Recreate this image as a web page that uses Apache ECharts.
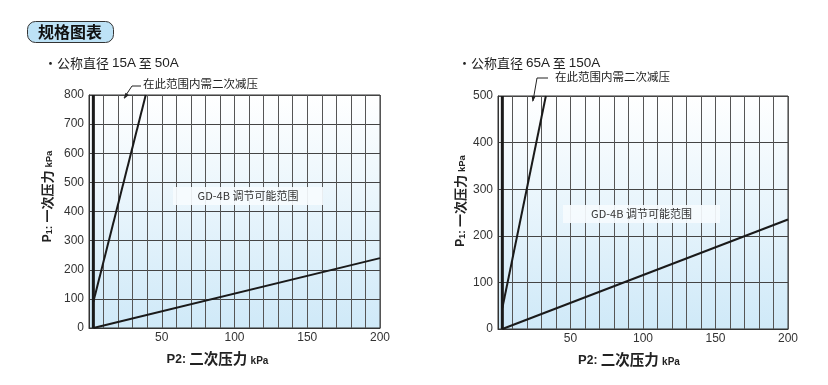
<!DOCTYPE html>
<html>
<head>
<meta charset="utf-8">
<script src="https://cdn.jsdelivr.net/npm/echarts@6/dist/echarts.min.js"></script>
<style>html,body{margin:0;padding:0;background:#fff}#c{width:828px;height:385px}</style>
</head>
<body>
<div id="c"></div>
<script>
// ---- data ----
const xTickLabels = [50, 100, 150, 200];
const leftYMax = 800;
const rightYMax = 500;
const leftBoundary = [[3, 0], [3, 800]];
const leftSteep = [[3, 90], [39, 800]];
const leftLow = [[3, 0], [200, 240]];
const rightBoundary = [[3, 0], [3, 500]];
const rightSteep = [[3, 45], [33, 500]];
const rightLow = [[3, 0], [200, 235]];
const titleText = '规格图表';
const leftSubtitle = ['・公称直径 ', '15A', ' 至 ', '50A'];
const rightSubtitle = ['・公称直径 ', '65A', ' 至 ', '150A'];
const noteText = '在此范围内需二次减压';
const rangeText = 'GD-4B 调节可能范围';

const FONT = "'Liberation Sans','Noto Sans CJK SC',sans-serif";
const CJK = "'Noto Sans CJK SC','Liberation Sans',sans-serif";

const chart = echarts.init(document.getElementById('c'));
const bg = new echarts.graphic.LinearGradient(0, 0, 0, 1, [
  {offset: 0, color: '#ffffff'}, {offset: 1, color: '#cfe9f8'}
]);

function xAxis(gi, shift) {
  return {
    type: 'value', gridIndex: gi, min: 0, max: 200, interval: 10,
    axisLine: {show: true, lineStyle: {color: '#333'}},
    axisTick: {show: false},
    splitLine: {show: true, lineStyle: {color: '#555', width: 1}},
    axisLabel: {
      color: '#333', fontSize: 12, fontFamily: FONT, margin: 4,
      formatter: v => (xTickLabels.indexOf(v) >= 0) ? String(v) : ''
    },
    name: '{p|P}{s|2}{c|: }{n|二次压力 }{k|kPa}',
    nameLocation: 'middle', nameGap: 20,
    nameTextStyle: {
      padding: [0, shift, 0, 0],
      rich: {
        p: {fontSize: 13, fontWeight: 'bold', fontFamily: FONT, color: '#222', lineHeight: 18, verticalAlign: 'bottom'},
        s: {fontSize: 12, fontWeight: 'bold', fontFamily: FONT, color: '#222', lineHeight: 16, verticalAlign: 'bottom'},
        c: {fontSize: 12, fontWeight: 'bold', fontFamily: FONT, color: '#222', lineHeight: 16, verticalAlign: 'bottom'},
        n: {fontSize: 14.5, fontWeight: 'bold', fontFamily: CJK, color: '#222', lineHeight: 18, verticalAlign: 'bottom'},
        k: {fontSize: 10, fontWeight: 'bold', fontFamily: FONT, color: '#222', lineHeight: 14, verticalAlign: 'bottom'}
      }
    }
  };
}
function yAxis(gi, max, gap, shift) {
  return {
    type: 'value', gridIndex: gi, min: 0, max: max, interval: 100,
    axisLine: {show: true, lineStyle: {color: '#333'}},
    axisTick: {show: false},
    splitLine: {show: true, lineStyle: {color: '#444', width: 1}},
    axisLabel: {color: '#333', fontSize: 12, fontFamily: FONT, margin: 5},
    name: '{p|P}{s|1}{c|: }{n|一次压力 }{k|kPa}',
    nameLocation: 'middle', nameGap: gap, nameRotate: 90,
    nameTextStyle: {
      padding: [0, 0, 0, shift],
      rich: {
        p: {fontSize: 12, fontWeight: 'bold', fontFamily: FONT, color: '#222', lineHeight: 16, verticalAlign: 'bottom'},
        s: {fontSize: 9, fontWeight: 'bold', fontFamily: FONT, color: '#222', lineHeight: 14, verticalAlign: 'bottom'},
        c: {fontSize: 11, fontWeight: 'bold', fontFamily: FONT, color: '#222', lineHeight: 15, verticalAlign: 'bottom'},
        n: {fontSize: 13, fontWeight: 'bold', fontFamily: CJK, color: '#222', lineHeight: 16, verticalAlign: 'bottom'},
        k: {fontSize: 9.5, fontWeight: 'bold', fontFamily: FONT, color: '#222', lineHeight: 13, verticalAlign: 'bottom'}
      }
    }
  };
}
function line(data, xi, w) {
  return {
    type: 'line', data: data, xAxisIndex: xi, yAxisIndex: xi,
    showSymbol: false, silent: true, animation: false,
    lineStyle: {color: '#1a1a1a', width: w}, z: 5
  };
}

function note(x, y, pts) {
  return [
    {type: 'text', left: x, top: y - 8, z: 100,
     style: {text: noteText, fontSize: 11.5, fontFamily: CJK, fill: '#222'}},
    {type: 'polyline', z: 100, shape: {points: pts},
     style: {stroke: '#222', lineWidth: 1, fill: null}},
  ];
}
function arrowHead(p0, p1) {
  const dx = p1[0] - p0[0], dy = p1[1] - p0[1];
  const L = Math.sqrt(dx * dx + dy * dy), ux = dx / L, uy = dy / L;
  const b = [p1[0] - ux * 6, p1[1] - uy * 6];
  return {type: 'polygon', z: 100, shape: {points: [p1, [b[0] - uy * 2, b[1] + ux * 2], [b[0] + uy * 2, b[1] - ux * 2]]},
          style: {fill: '#222'}};
}
function rangeLabel(x, y, w) {
  return [
    {type: 'rect', z: 90, shape: {x: x, y: y, width: w, height: 18},
     style: {fill: 'rgba(246,251,254,0.92)'}},
    {type: 'text', z: 100, x: x + w / 2, y: y + 9,
     style: {text: rangeText, fontSize: 11, fontFamily: CJK, fill: '#333', align: 'center', verticalAlign: 'middle'}}
  ];
}
function subtitle(x, y, parts) {
  return {type: 'text', z: 100, x: x, y: y,
    style: {
      text: '{c|' + parts[0] + '}{l|' + parts[1] + '}{c|' + parts[2] + '}{l|' + parts[3] + '}',
      verticalAlign: 'middle',
      rich: {
        c: {fontSize: 13, fontFamily: CJK, fill: '#222', lineHeight: 18, verticalAlign: 'bottom'},
        l: {fontSize: 13.5, fontFamily: FONT, fill: '#222', lineHeight: 17, verticalAlign: 'bottom'}
      }
    }};
}

const graphics = [
  {type: 'rect', z: 100, shape: {x: 27.5, y: 21.5, width: 86, height: 21, r: 8},
   style: {fill: '#bde2f6', stroke: '#333', lineWidth: 1}},
  {type: 'text', z: 101, x: 70, y: 32,
   style: {text: titleText, fontSize: 16, fontWeight: 'bold', fontFamily: CJK, fill: '#111', align: 'center', verticalAlign: 'middle'}},
  subtitle(44, 61, leftSubtitle),
  subtitle(458, 61, rightSubtitle),
  ...note(143, 86, [[141, 86], [132, 86], [124, 98]]),
  arrowHead([132, 86], [124, 99]),
  ...note(555, 79, [[548, 78], [537, 78], [533, 101]]),
  arrowHead([537, 78], [532.5, 102]),
  ...rangeLabel(173, 187, 150),
  ...rangeLabel(563, 205, 157)
];

chart.setOption({
  animation: false,
  grid: [
    {left: 89, right: 448, top: 95, bottom: 57, show: true, backgroundColor: bg, borderColor: '#333', borderWidth: 1},
    {left: 498, right: 40, top: 96, bottom: 56, show: true, backgroundColor: bg, borderColor: '#333', borderWidth: 1}
  ],
  xAxis: [xAxis(0, 34), xAxis(1, 28)],
  yAxis: [yAxis(0, leftYMax, 35, 30), yAxis(1, rightYMax, 31, 23)],
  series: [
    line(leftBoundary, 0, 3), line(leftSteep, 0, 2), line(leftLow, 0, 2),
    line(rightBoundary, 1, 3), line(rightSteep, 1, 2), line(rightLow, 1, 2)
  ],
  graphic: graphics
});
</script>
</body>
</html>
